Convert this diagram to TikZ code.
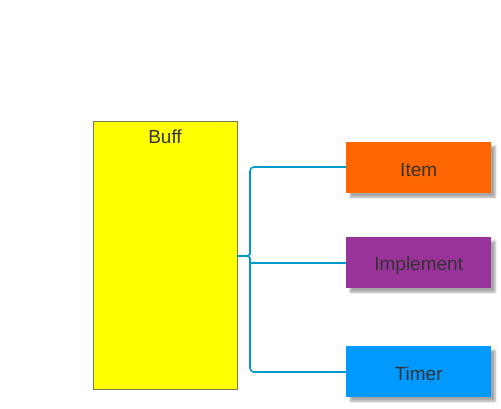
\documentclass[tikz,border=0pt]{standalone}
\usepackage{fontspec}
\setmainfont{Liberation Sans}
\usetikzlibrary{shadows.blur}
\definecolor{txt}{HTML}{333333}
\definecolor{orng}{HTML}{FF6600}
\definecolor{purp}{HTML}{993399}
\definecolor{blu}{HTML}{0099FF}
\definecolor{conn}{HTML}{0099CC}
\definecolor{ylw}{HTML}{FFFF00}
\definecolor{ylwb}{HTML}{7A7A50}
\newcommand{\lowr}[1]{\raisebox{-2.5pt}[\height][\depth]{#1}}
\tikzset{
  leaf/.style={minimum width=145pt, minimum height=51pt, inner sep=0pt, draw=none,
    text=txt, font=\fontsize{19}{21}\selectfont,
    blur shadow={shadow xshift=4pt, shadow yshift=-4pt, shadow blur radius=2pt, shadow opacity=35}},
  wire/.style={draw=conn, line width=1.6pt, rounded corners=4pt}
}
\begin{document}
\begin{tikzpicture}[x=1pt,y=-1pt]
\useasboundingbox (0,0) rectangle (501,408);
\node[draw=ylwb, fill=ylw, minimum width=144pt, minimum height=268pt, inner sep=0pt, anchor=north west, line width=0.6pt] (buff) at (93,121) {};
\node[text=txt, font=\fontsize{19}{21}\selectfont, anchor=center] (bufft) at (165,136.5) {Buff};
\node[leaf, fill=orng, anchor=north west] (item) at (346,142) {\lowr{Item}};
\node[leaf, fill=purp, anchor=north west] (impl) at (346,237) {\lowr{Implement}};
\node[leaf, fill=blu, anchor=north west] (timer) at (346,346) {\lowr{Timer}};
\coordinate (j) at (245,256);
\draw[wire, line cap=round] (buff.east |- j) -- (j);
\draw[wire] (j) .. controls (249,256) and (250,254) .. (250,250) -- (250,167) -- (item.west |- 0,167);
\draw[wire] (j) .. controls (249,256) and (250,258) .. (250,262) -- (250,372) -- (timer.west |- 0,372);
\draw[draw=conn, line width=1.6pt] (250,263) -- (impl.west |- 0,263);
\end{tikzpicture}
\end{document}
